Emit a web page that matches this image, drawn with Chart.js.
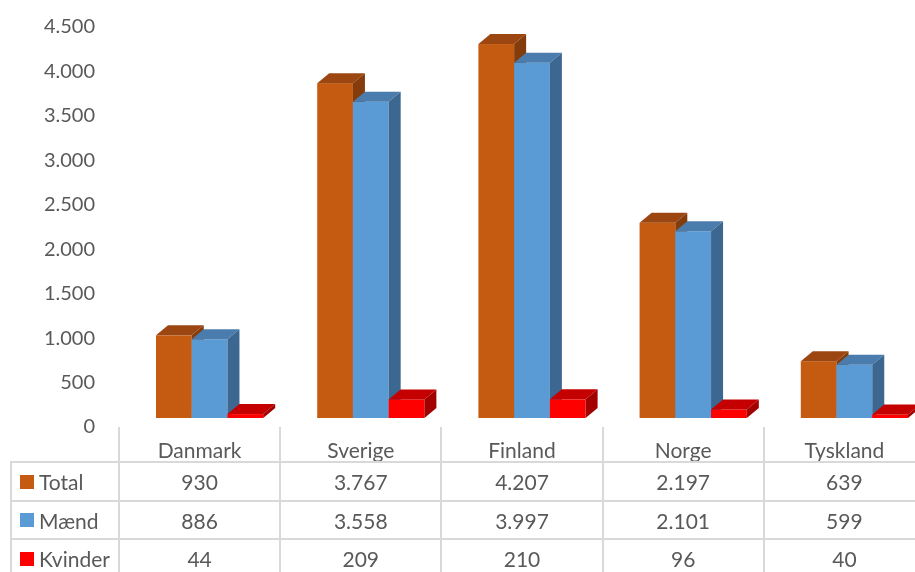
<!DOCTYPE html>
<html>
<head>
<meta charset="utf-8">
<script src="https://cdn.jsdelivr.net/npm/chart.js@4"></script>
<style>
	html, body { margin: 0; padding: 0; background: #fff; overflow: hidden; }
	#wrap { position: relative; width: 930px; height: 572px; }
	#chart { position: absolute; left: 0; top: 0; }
	.cell {
		position: absolute; box-sizing: border-box;
		font-family: Lato, "Open Sans", sans-serif; font-size: 21px; color: #595959;
		display: flex; align-items: center; justify-content: center;
		white-space: nowrap;
	}
	.key { display: inline-block; width: 14px; height: 14px; margin-right: 5px; }
</style>
</head>
<body>
<div id="wrap">
	<canvas id="chart" width="930" height="572"></canvas>
	<div id="table"></div>
</div>
<script>
	var categories = ['Danmark', 'Sverige', 'Finland', 'Norge', 'Tyskland'];
	var total = [930, 3767, 4207, 2197, 639];
	var maend = [886, 3558, 3997, 2101, 599];
	var kvinder = [44, 209, 210, 96, 40];
	var seriesNames = ['Total', 'Mænd', 'Kvinder'];
	var yTicks = [0, 500, 1000, 1500, 2000, 2500, 3000, 3500, 4000, 4500];

	// front, top, side shades for each series
	var shades = [
		['#C55A11', '#9C4712', '#843C0C'],
		['#5B9BD5', '#4A7DAD', '#3C6790'],
		['#FF0000', '#C40000', '#A30000']
	];

	function fmt(v) {
		return String(v).replace(/\B(?=(\d{3})+(?!\d))/g, '.');
	}

	// front face offset and depth of the boxes
	var OX = 10, OY = -9, DX = 12, DY = -10;

	var boxes3d = {
		id: 'boxes3d',
		beforeDatasetsDraw: function (chart) {
			var ctx = chart.ctx;
			ctx.save();
			for (var i = 0; i < categories.length; i++) {
				for (var d = 0; d < chart.data.datasets.length; d++) {
					var el = chart.getDatasetMeta(d).data[i];
					var l = el.x - el.width / 2 + OX, r = el.x + el.width / 2 + OX;
					var t = el.y + OY, b = el.base + OY;
					var c = shades[d];
					ctx.fillStyle = c[0];
					ctx.fillRect(l, t, r - l, b - t);
					ctx.fillStyle = c[1];
					ctx.beginPath();
					ctx.moveTo(l, t); ctx.lineTo(l + DX, t + DY); ctx.lineTo(r + DX, t + DY); ctx.lineTo(r, t);
					ctx.closePath(); ctx.fill();
					ctx.fillStyle = c[2];
					ctx.beginPath();
					ctx.moveTo(r, t); ctx.lineTo(r + DX, t + DY); ctx.lineTo(r + DX, b + DY); ctx.lineTo(r, b);
					ctx.closePath(); ctx.fill();
				}
			}
			ctx.restore();
			return false;
		}
	};

	new Chart(document.getElementById('chart'), {
		type: 'bar',
		data: {
			labels: categories,
			datasets: [
				{ label: seriesNames[0], data: total, backgroundColor: shades[0][0] },
				{ label: seriesNames[1], data: maend, backgroundColor: shades[1][0] },
				{ label: seriesNames[2], data: kvinder, backgroundColor: shades[2][0] }
			]
		},
		options: {
			responsive: false,
			animation: false,
			categoryPercentage: 0.665,
			barPercentage: 1.0,
			layout: { padding: { top: 27, right: 5, bottom: 145, left: 0 } },
			plugins: { legend: { display: false }, tooltip: { enabled: false } },
			scales: {
				x: { display: false },
				y: {
					min: 0,
					max: 4500,
					afterFit: function (scale) {
						scale.width = 119;
						// tick padding should only push labels sideways
						scale.paddingTop = 0;
						scale.paddingBottom = 0;
					},
					afterBuildTicks: function (scale) {
						scale.ticks = yTicks.map(function (v) { return { value: v }; });
					},
					border: { display: false },
					grid: { display: false, drawTicks: false },
					ticks: {
						padding: 24,
						color: '#595959',
						font: { family: 'Lato', size: 20 },
						callback: function (v) { return fmt(v); }
					}
				}
			}
		},
		plugins: [boxes3d]
	});

	// data table under the plot
	var table = document.getElementById('table');
	var colX = 119, colW = 161.2, line = '2px solid #D9D9D9';
	var headTop = 427, rowTop = 462, rowH = 38.5;

	function cell(left, top, width, height, borders) {
		var div = document.createElement('div');
		div.className = 'cell';
		div.style.left = left + 'px';
		div.style.top = top + 'px';
		div.style.width = width + 'px';
		div.style.height = height + 'px';
		if (borders.indexOf('l') >= 0) div.style.borderLeft = line;
		if (borders.indexOf('t') >= 0) div.style.borderTop = line;
		table.appendChild(div);
		return div;
	}

	categories.forEach(function (name, i) {
		var c = cell(colX + colW * i - 1, headTop, colW, rowTop - headTop + 1, 'l');
		c.style.paddingTop = '9px';
		c.textContent = name;
	});

	var rows = [total, maend, kvinder];
	rows.forEach(function (vals, r) {
		var top = rowTop + rowH * r - 1;
		var lc = cell(10, top, colX - 10, rowH + 1, 'lt');
		lc.style.justifyContent = 'flex-start';
		lc.style.paddingLeft = '8px';
		var key = document.createElement('span');
		key.className = 'key';
		key.style.background = shades[r][0];
		lc.appendChild(key);
		lc.appendChild(document.createTextNode(seriesNames[r]));
		vals.forEach(function (v, i) {
			var c = cell(colX + colW * i - 1, top, colW, rowH + 1, 'lt');
			c.textContent = fmt(v);
		});
	});
</script>
</body>
</html>
